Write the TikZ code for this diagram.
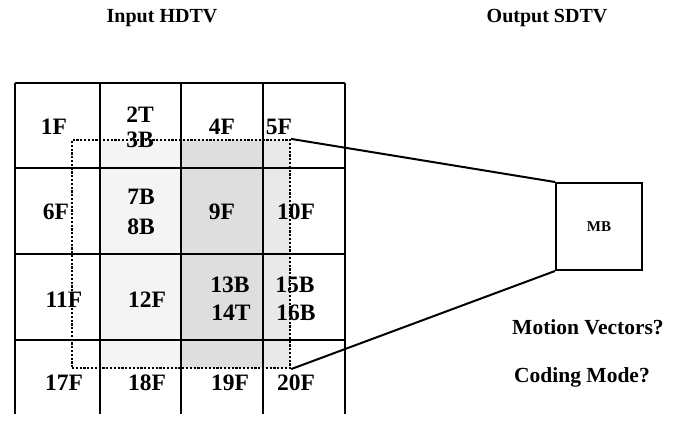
\documentclass[tikz,border=0pt]{standalone}
\usepackage{fontspec}
\setmainfont{Liberation Serif}
\begin{document}
\begin{tikzpicture}[x=1pt,y=-1pt,
  gridline/.style={line width=2.2pt},
  lbl/.style={inner sep=0pt,font=\fontsize{23.5}{24}\selectfont\bfseries},
  head/.style={inner sep=0pt,font=\fontsize{20}{20}\selectfont\bfseries},
  qtext/.style={inner sep=0pt,anchor=west,font=\fontsize{21.5}{22}\selectfont\bfseries},
  winbox/.style={draw,dash pattern=on 2.2pt off 1.6pt,line width=2.2pt,inner sep=0pt},
  mbbox/.style={draw,line width=2pt,inner sep=0pt,font=\fontsize{15}{15}\selectfont\bfseries},
  link/.style={line width=2pt}]
\useasboundingbox (0,0) rectangle (679,423);
% shading inside the window
\fill[gray!9] (100,140) rectangle (181,368);
\fill[gray!26] (181,140) rectangle (263,368);
\fill[gray!17] (263,140) rectangle (290,368);
% grid
\foreach \y in {83,168,254,340} \draw[gridline] (15,\y) -- (345,\y);
\foreach \x in {15,100,181,263,345} \draw[gridline] (\x,83) -- (\x,414);
% window
\node[winbox,minimum width=218pt,minimum height=228pt] (win) at (181,254) {};
% labels
\node[head] (inhd) at (162,18) {Input HDTV};
\node[head] (outsd) at (547,18) {Output SDTV};
\node[lbl] (f1) at (54,127) {1F};
\node[lbl] (t2) at (140,115) {2T};
\node[lbl] (b3) at (140,140) {3B};
\node[lbl] (f4) at (222,127) {4F};
\node[lbl] (f5) at (279,127) {5F};
\node[lbl] (f6) at (56,212) {6F};
\node[lbl] (b7) at (141,197) {7B};
\node[lbl] (b8) at (141,227) {8B};
\node[lbl] (f9) at (222,212) {9F};
\node[lbl] (f10) at (296,212) {10F};
\node[lbl] (f11) at (64,300) {11F};
\node[lbl] (f12) at (147,300) {12F};
\node[lbl] (b13) at (230,285) {13B};
\node[lbl] (t14) at (231,313) {14T};
\node[lbl] (b15) at (295,285) {15B};
\node[lbl] (b16) at (296,313) {16B};
\node[lbl] (f17) at (64,383) {17F};
\node[lbl] (f18) at (147,383) {18F};
\node[lbl] (f19) at (230,383) {19F};
\node[lbl] (f20) at (296,383) {20F};
% macroblock
\node[mbbox,minimum width=86pt,minimum height=87pt] (mb) at (599,226.5) {MB};
\draw[link] (win.north east) -- (mb.north west);
\draw[link] (win.south east) -- (mb.south west);
\node[qtext] (mv) at (512,327) {Motion Vectors?};
\node[qtext] (cm) at (514,377) {Coding Mode?};
\end{tikzpicture}
\end{document}
